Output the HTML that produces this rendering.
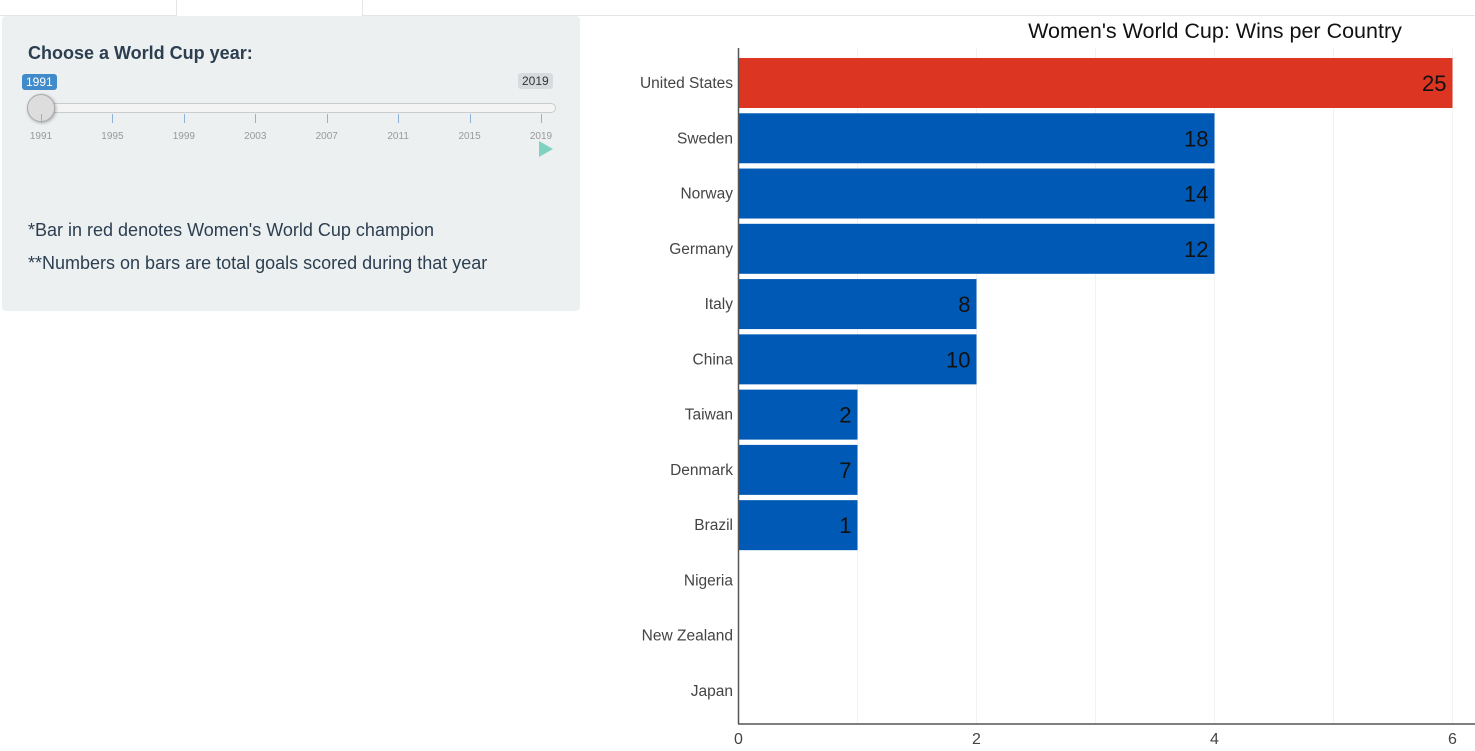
<!DOCTYPE html>
<html><head><meta charset="utf-8"><style>
body{margin:0;width:1475px;height:751px;background:#fff;position:relative;overflow:hidden;font-family:"Liberation Sans",sans-serif}
.abs{position:absolute}
</style></head><body>
<div class="abs" style="left:0;top:0;width:1475px;height:15px;border-bottom:1px solid #e5e5e5"></div>
<div class="abs" style="left:176px;top:0;width:185px;height:16px;background:#fff;border-left:1px solid #e5e5e5;border-right:1px solid #e5e5e5"></div>
<div class="abs" style="left:2px;top:16px;width:578px;height:295px;background:#ecf0f1;border-radius:4px"></div>
<div class="abs" style="left:28px;top:43px;font-size:18px;font-weight:bold;color:#2c3e50">Choose a World Cup year:</div>
<div class="abs" style="left:22px;top:74px;background:#428bca;color:#fff;font-size:12px;padding:1px 4px;border-radius:3px">1991</div>
<div class="abs" style="left:518px;top:73px;background:#d8dbdd;color:#333;font-size:12px;padding:1px 4px;border-radius:3px">2019</div>
<div class="abs" style="left:28px;top:103px;width:526px;height:8px;background:#f4f4f4;border:1px solid #ccc;border-radius:5px"></div>
<div class="abs" style="left:27px;top:94px;width:26px;height:26px;background:#ddd;border:1px solid #aaa;border-radius:50%;box-shadow:1px 1px 3px rgba(0,0,0,.3)"></div>
<div id="ticks"></div>
<div class="abs" style="left:539px;top:141px;width:0;height:0;border-left:14px solid #7fd1c0;border-top:8px solid transparent;border-bottom:8px solid transparent"></div>
<div class="abs" style="left:28px;top:220px;font-size:18px;color:#2c3e50">*Bar in red denotes Women's World Cup champion</div>
<div class="abs" style="left:28px;top:253px;font-size:18px;color:#2c3e50">**Numbers on bars are total goals scored during that year</div>
<svg class="abs" style="left:0;top:0" width="1475" height="751" id="chart"></svg>
<script>
const years=[1991,1995,1999,2003,2007,2011,2015,2019];
const countries=["United States","Sweden","Norway","Germany","Italy","China","Taiwan","Denmark","Brazil","Nigeria","New Zealand","Japan"];
const wins=[6,4,4,4,2,2,1,1,1,0,0,0];
const goals=[25,18,14,12,8,10,2,7,1,null,null,null];
const champion="United States";
const xTicks=[0,2,4,6];
const td=document.getElementById('ticks');
years.forEach((y,i)=>{
  const x=41+i*(500/7);
  const t=document.createElement('div');
  t.className='abs';
  
  
  t.style.cssText=`left:${x}px;top:114px;width:1px;height:9px;background:#8fb3d9`;
  td.appendChild(t);
  const l=document.createElement('div');
  l.className='abs';
  
  
  l.style.cssText=`left:${x-20}px;top:131px;width:40px;text-align:center;font-size:10px;color:#999`;
  l.textContent=y;
  td.appendChild(l);
});
const svg=document.getElementById('chart');const NS='http://www.w3.org/2000/svg';
function el(tag,a,txt){const e=document.createElementNS(NS,tag);for(const k in a)e.setAttribute(k,a[k]);if(txt!=null)e.textContent=txt;svg.appendChild(e);return e;}
const xs=v=>738.5+v*119;
const yc=i=>83+i*55.27;
for(let v=1;v<=6;v++){const g=el('line',{x1:xs(v),x2:xs(v),y1:48,y2:724,stroke:'#f2f2f2','stroke-width':1});}
countries.forEach((c,i)=>{
  if(wins[i]>0){
    const r=el('rect',{x:xs(0),y:yc(i)-25,width:xs(wins[i])-xs(0),height:50,fill:c===champion?'#dc3522':'#005ab5'});
    
    
    if(goals[i]!=null){const t=el('text',{x:xs(wins[i])-6,y:yc(i)+8,'text-anchor':'end','font-size':22,fill:'#111'},goals[i]);
    }
  }
  const l=el('text',{x:733,y:yc(i)+5,'text-anchor':'end','font-size':15.5,fill:'#444'},c);
  
});
const ya=el('line',{x1:738.5,x2:738.5,y1:48,y2:724,stroke:'#555','stroke-width':1.5});
const xa=el('line',{x1:738,x2:1475,y1:724,y2:724,stroke:'#555','stroke-width':1.5});
xTicks.forEach(v=>{const t=el('text',{x:xs(v),y:744,'text-anchor':'middle','font-size':16,fill:'#444'},v);});
const ti=el('text',{x:1215,y:38,'text-anchor':'middle','font-size':21.5,fill:'#111'},"Women's World Cup: Wins per Country");

</script>
</body></html>
